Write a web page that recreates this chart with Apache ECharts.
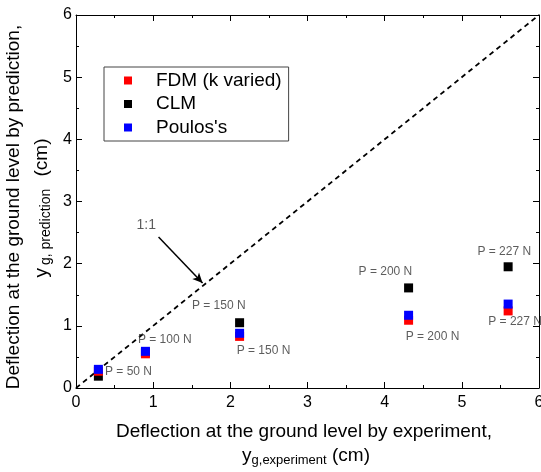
<!DOCTYPE html>
<html>
<head>
<meta charset="utf-8">
<script src="https://cdn.jsdelivr.net/npm/echarts@6/dist/echarts.min.js"></script>
<style>
html,body{margin:0;padding:0;background:#fff;}
#c{width:541px;height:472px;}
</style>
</head>
<body>
<div id="c"></div>
<script>
// ---- data ----
const expX   = [0.29, 0.90, 2.12, 4.31, 5.60];
const fdm    = [0.27, 0.55, 0.83, 1.09, 1.24];
const clm    = [0.19, 0.57, 1.05, 1.61, 1.95];
const poulos = [0.30, 0.59, 0.88, 1.17, 1.35];
const seriesNames = ['FDM (k varied)', 'CLM', "Poulos's"];
const oneToOne = [[0, 0], [6, 6]];
const loadText = ['P = 50 N', 'P = 100 N', 'P = 150 N', 'P = 150 N', 'P = 200 N', 'P = 200 N', 'P = 227 N', 'P = 227 N'];
const loadTextX = [0.68, 1.15, 1.85, 2.43, 4.01, 4.62, 5.55, 5.69];
const loadTextY = [0.26, 0.77, 1.32, 0.60, 1.87, 0.82, 2.19, 1.06];
const arrowFrom = [1.07, 2.43];
const arrowTo = [1.64, 1.69];
const ratioText = '1:1';
const ratioTextPos = [0.91, 2.62];
const axisTicks = [0, 1, 2, 3, 4, 5, 6];

const FONT = 'Liberation Sans, Arial, sans-serif';
const chart = echarts.init(document.getElementById('c'), null, {renderer: 'canvas'});

const pts = (ys) => expX.map((x, i) => [x, ys[i]]);

function mkX(pos, showLabel) {
  return {
    type: 'value', position: pos, min: axisTicks[0], max: axisTicks[axisTicks.length - 1], interval: 1,
    axisLine: {show: true, onZero: false, lineStyle: {color: '#000', width: 1}},
    axisTick: {show: true, inside: true, length: 6, lineStyle: {color: '#000'}},
    minorTick: {show: true, splitNumber: 2, length: 3, lineStyle: {color: '#000'}},
    splitLine: {show: false},
    axisLabel: {show: showLabel, color: '#000', fontSize: 16, fontFamily: FONT, margin: 7}
  };
}
function mkY(pos, showLabel) {
  return {
    type: 'value', position: pos, min: axisTicks[0], max: axisTicks[axisTicks.length - 1], interval: 1,
    axisLine: {show: true, onZero: false, lineStyle: {color: '#000', width: 1}},
    axisTick: {show: true, inside: true, length: 6, lineStyle: {color: '#000'}},
    minorTick: {show: true, splitNumber: 2, length: 3, lineStyle: {color: '#000'}},
    splitLine: {show: false},
    axisLabel: {show: showLabel, color: '#000', fontSize: 16, fontFamily: FONT, margin: 4}
  };
}

const option = {
  animation: false,
  backgroundColor: '#fff',
  grid: {left: 76, right: 2, top: 15, bottom: 84, containLabel: false, outerBoundsMode: 'none'},
  xAxis: [mkX('bottom', true), mkX('top', false)],
  yAxis: [mkY('left', true), mkY('right', false)],
  legend: {
    data: seriesNames,
    orient: 'vertical',
    left: 104, top: 67,
    itemWidth: 8, itemHeight: 8,
    itemGap: 4.5,
    icon: 'rect',
    borderColor: '#444', borderWidth: 1,
    padding: [4, 7, 4, 20],
    textStyle: {fontSize: 19, fontFamily: FONT, color: '#000', lineHeight: 19, padding: [0, 0, 0, 19]}
  },
  graphic: [
    {type: 'text', x: 304, y: 432, style: {text: 'Deflection at the ground level by experiment,', font: '19px ' + FONT, fill: '#000', align: 'center', verticalAlign: 'middle'}},
    {type: 'text', x: 306, y: 456, style: {
      text: '{a|y}{b|g,experiment}{a| (cm)}', align: 'center', verticalAlign: 'middle',
      rich: {
        a: {fontSize: 19, fontFamily: FONT, fill: '#000', lineHeight: 22},
        b: {fontSize: 13, fontFamily: FONT, fill: '#000', lineHeight: 10, verticalAlign: 'bottom'}
      }}},
    {type: 'text', x: 14, y: 207, rotation: Math.PI / 2, style: {text: 'Deflection at the ground level by prediction,', font: '19px ' + FONT, fill: '#000', align: 'center', verticalAlign: 'middle'}},
    {type: 'text', x: 42, y: 208, rotation: Math.PI / 2, style: {
      text: '{a|y}{b|g, prediction}{a| (cm)}', align: 'center', verticalAlign: 'middle',
      rich: {
        a: {fontSize: 19, fontFamily: FONT, fill: '#000', lineHeight: 22},
        b: {fontSize: 14, fontFamily: FONT, fill: '#000', lineHeight: 10, verticalAlign: 'bottom', padding: [0, 7, 0, 3]}
      }}}
  ],
  series: [
    {
      name: 'oneToOne', type: 'line', data: oneToOne, symbol: 'none', silent: true,
      lineStyle: {color: '#000', width: 1.8, type: [5, 4]}, z: 1,
      markLine: {
        silent: true, symbol: ['none', 'arrow'], symbolSize: [7, 10],
        lineStyle: {color: '#000', width: 1.5, type: 'solid'},
        label: {show: false},
        data: [[{coord: arrowFrom}, {coord: arrowTo}]]
      }
    },
    {
      name: 'annot', type: 'scatter', symbolSize: 0, silent: true, z: 5,
      data: loadTextX.map((x, i) => ({value: [x, loadTextY[i]], label: {formatter: loadText[i]}}))
        .concat([{value: ratioTextPos, label: {formatter: ratioText, fontSize: 14}}]),
      label: {show: true, position: 'inside', color: '#333', fontSize: 12, fontFamily: FONT}
    },
    {name: seriesNames[1], type: 'scatter', symbol: 'rect', symbolSize: 9, itemStyle: {color: '#000000', opacity: 1}, data: pts(clm), z: 2},
    {name: seriesNames[0], type: 'scatter', symbol: 'rect', symbolSize: 9, itemStyle: {color: '#ff0000', opacity: 1}, data: pts(fdm), z: 3},
    {name: seriesNames[2], type: 'scatter', symbol: 'rect', symbolSize: 9, itemStyle: {color: '#0000ff', opacity: 1}, data: pts(poulos), z: 4}
  ]
};
chart.setOption(option);
</script>
</body>
</html>
